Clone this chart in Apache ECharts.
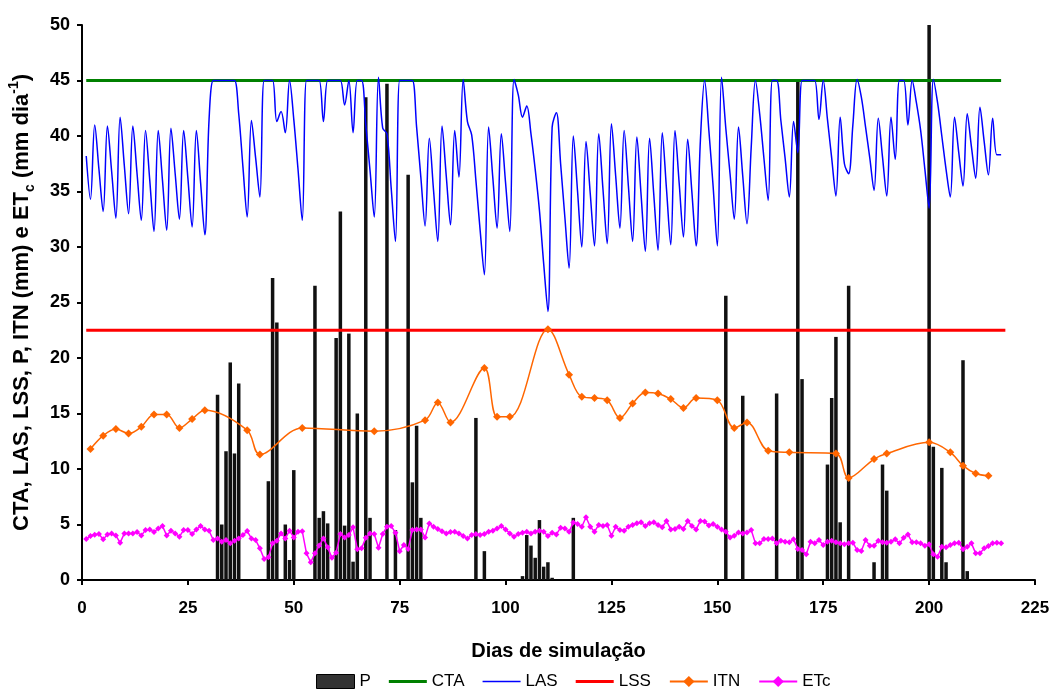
<!DOCTYPE html>
<html><head><meta charset="utf-8">
<script src="https://cdn.jsdelivr.net/npm/echarts@6/dist/echarts.min.js"></script>
<style>html,body{margin:0;padding:0;background:#fff}#c{width:1053px;height:694px}</style>
</head><body><div id="c"></div>
<script>
// LAS daily values, days 1..217
const lasValues = [
38.2,34.3,41.0,37.0,33.2,40.9,36.8,32.6,41.7,37.3,
33.0,40.9,36.6,32.4,40.5,36.0,31.4,40.5,36.0,31.5,
40.7,36.6,32.5,40.5,36.2,31.8,40.5,35.8,31.1,41.5,
45,45,45,45,45,45,42,37.2,32.7,41.4,
38,34.5,45,45,45,41.3,42.2,40.3,45,41.5,
37,32.4,45,45,45,45,41.3,45,45,45,
45,42.8,45,40.3,45,45,41,36.9,32.7,45.3,
40.7,40.2,35.3,30.5,45,45,45,45,40.8,36.3,
31.9,39.8,35.1,30.5,40.9,36.4,32.0,40.5,36.3,45.1,
41.3,40.1,36,31.5,27.5,40.8,36.2,31.7,40.2,35.8,
31.4,45.1,43.7,41.7,42.7,40.2,37.0,33.3,28.5,24.2,
40.8,42.1,37.5,32.7,28.1,40.0,35.0,30.0,39.5,34.8,
30.1,40.2,35.2,30.3,41.1,36.4,31.7,40.5,35.5,30.5,
39.9,34.7,29.6,39.8,34.7,29.7,40.3,35.2,30.2,40.5,
35.7,30.9,39.7,34.9,30.1,39.6,45,40.5,35.5,30.1,
45.3,40.7,36.6,32.5,40.8,36.4,32.1,39,45,42,
38,34.2,45,45,41.4,38,34.5,41.3,38.5,45,
45,45,45,41.5,45,41.5,38,34.6,41.7,37.5,
36.6,41,45.1,43.5,40.8,38,35.1,41.6,38.1,34.6,
41.7,37.9,45,45,41,45,43,40.5,37,33.5,
45.1,43,40,37,34.5,41.7,38.5,35.5,42.0,39,
36.2,42.6,39.5,36.5,41.6,38.3,38.3
];
// ETc daily values, days 1..217
const etcValues = [
3.7,3.96,4.08,4.15,3.66,4.1,4.2,4.0,3.36,4.2,
4.2,4.2,4.32,4.0,4.5,4.56,4.32,4.65,4.86,4.0,
4.44,4.2,3.9,4.5,4.5,4.15,4.56,4.86,4.56,4.44,
3.6,3.75,3.45,3.6,3.3,3.54,3.75,4.05,4.41,3.75,
3.6,2.85,1.9,2.04,3.3,3.54,4.2,3.75,4.44,3.84,
4.35,4.4,2.4,1.6,2.4,3.1,3.75,2.94,2.0,2.46,
4.15,3.84,4.05,4.75,2.76,2.85,3.8,4.2,4.15,2.9,
4.15,4.8,4.86,4.26,2.6,3.15,2.8,4.5,4.56,4.56,
3.84,5.1,4.8,4.6,4.4,4.2,4.32,4.35,4.2,3.96,
3.75,4.05,4.15,4.05,4.15,4.35,4.44,4.65,4.86,4.56,
4.2,3.9,4.15,4.26,4.35,4.2,4.35,4.44,4.35,3.96,
4.26,4.11,4.71,4.65,4.35,5.17,5.05,4.80,5.65,4.80,
4.35,4.96,4.86,4.96,3.99,4.80,4.50,4.44,4.80,4.96,
5.11,5.20,4.86,5.11,5.20,4.96,4.75,5.32,4.56,4.60,
4.80,4.60,5.32,4.86,4.56,5.32,5.26,4.90,5.05,4.80,
4.56,4.35,3.84,3.99,4.29,4.20,4.29,4.50,3.30,3.30,
3.69,3.69,3.75,3.30,3.54,3.45,3.39,3.66,2.79,2.70,
2.31,3.45,3.30,3.60,3.15,3.45,3.54,3.39,3.30,3.21,
3.30,3.36,2.70,2.61,3.60,3.09,3.09,3.54,3.39,3.36,
3.45,3.66,3.30,3.81,4.11,3.39,3.39,3.30,3.09,3.21,
2.31,2.10,3.00,2.94,3.15,3.30,3.36,2.76,3.00,3.30,
2.40,2.40,2.85,3.06,3.30,3.36,3.30
];
// Precipitation P: day, mm
const pDays = [32,33,34,35,36,37,44,45,46,48,49,50,55,56,57,58,60,61,62,63,64,65,67,68,72,74,77,78,79,80,93,95,104,105,106,107,108,109,110,111,116,152,156,164,169,170,176,177,178,179,181,187,189,190,200,201,203,204,208,209];
const pValues = [16.7,5.0,11.6,19.6,11.4,17.7,8.9,27.2,23.2,5.0,1.8,9.9,26.5,5.6,6.2,5.1,21.8,33.2,4.9,22.2,1.65,15.0,43.5,5.6,44.7,4.5,36.5,8.8,13.9,5.6,14.6,2.6,0.35,4.05,3.1,2.0,5.4,1.2,1.6,0.2,5.6,25.6,16.6,16.8,45,18.1,10.4,16.4,21.9,5.2,26.5,1.6,10.4,8.05,50,12.0,10.1,1.6,19.8,0.8];
// ITN: day, mm
const itnDays = [2,5,8,11,14,17,20,23,26,29,39,42,52,69,81,84,87,95,98,101,110,115,118,121,124,127,130,133,136,139,142,145,150,154,157,162,167,178,181,187,190,200,205,208,211,214];
const itnValues = [11.8,13.0,13.6,13.2,13.8,14.9,14.9,13.7,14.5,15.3,13.5,11.3,13.7,13.4,14.4,16.0,14.2,19.1,14.7,14.7,22.6,18.5,16.5,16.4,16.2,14.6,15.9,16.9,16.8,16.3,15.5,16.4,16.2,13.7,14.2,11.65,11.5,11.4,9.2,10.9,11.4,12.4,11.5,10.3,9.6,9.4];
// constant limits
const ctaDays = [1,217], ctaValue = 45;
const lssDays = [1,218], lssValue = 22.5;
const xTicks = {min:0, max:225, interval:25};
const yTicks = {min:0, max:50, interval:5};

const F = "'Liberation Sans', Arial, sans-serif";
const pair = (xs, ys) => xs.map((x,i)=>[x, ys[i]]);
const daily = vals => vals.map((v,i)=>[i+1, v]);

const chart = echarts.init(document.getElementById('c'), null, {renderer:'canvas'});
chart.setOption({
  animation:false,
  backgroundColor:'#fff',
  grid:{left:82, right:18, top:25, bottom:114, containLabel:false, outerBoundsMode:'none'},
  legend:{
    left:311, bottom:-1, itemWidth:38, itemHeight:14, itemGap:18,
    textStyle:{fontFamily:F, fontSize:17, color:'#000'},
    data:[
      {name:'P', icon:'rect', itemStyle:{color:'#333', borderColor:'#000', borderWidth:1}},
      {name:'CTA', icon:'path://M0,0H40V3H0Z'},
      {name:'LAS', icon:'path://M0,0H40V1.6H0Z'},
      {name:'LSS', icon:'path://M0,0H40V3H0Z'},
      'ITN','ETc'
    ]
  },
  xAxis:{
    type:'value', min:xTicks.min, max:xTicks.max, interval:xTicks.interval,
    name:'Dias de simulação', nameLocation:'middle', nameGap:61,
    nameTextStyle:{fontFamily:F, fontSize:20, fontWeight:'bold', color:'#000'},
    axisLine:{show:true, onZero:false, lineStyle:{color:'#000', width:2}},
    axisTick:{show:true, length:5, lineStyle:{color:'#000', width:2}},
    axisLabel:{fontFamily:F, fontSize:17, fontWeight:'bold', color:'#000', margin:20},
    splitLine:{show:false}
  },
  yAxis:{
    type:'value', min:yTicks.min, max:yTicks.max, interval:yTicks.interval,
    name:'{a|CTA, LAS, LSS, P, ITN (mm) e ET}{sub|c}{a| (mm dia}{sup|-1}{a|)}',
    nameLocation:'middle', nameRotate:90, nameGap:45,
    nameTextStyle:{
      fontFamily:F, fontSize:22, fontWeight:'bold', color:'#000',
      rich:{
        a:{fontFamily:F, fontSize:22, fontWeight:'bold', color:'#000', lineHeight:30},
        sub:{fontFamily:F, fontSize:14, fontWeight:'bold', color:'#000', verticalAlign:'bottom', lineHeight:14},
        sup:{fontFamily:F, fontSize:14, fontWeight:'bold', color:'#000', verticalAlign:'top', lineHeight:14}
      }
    },
    axisLine:{show:true, lineStyle:{color:'#000', width:2}},
    axisTick:{show:true, length:5, lineStyle:{color:'#000', width:2}},
    axisLabel:{fontFamily:F, fontSize:18, fontWeight:'bold', color:'#000', margin:12},
    splitLine:{show:false}
  },
  series:[
    {name:'P', type:'bar', data:pair(pDays,pValues), barWidth:3.5, clip:true,
     itemStyle:{color:'#111'}, z:1},
    {name:'CTA', type:'line', data:ctaDays.map(d=>[d,ctaValue]), symbol:'none',
     lineStyle:{color:'#008000', width:3}, itemStyle:{color:'#008000'}, z:3},
    {name:'LAS', type:'line', data:daily(lasValues), symbol:'none', smooth:0.35,
     lineStyle:{color:'#0000FF', width:1.5}, itemStyle:{color:'#0000FF'}, z:4},
    {name:'LSS', type:'line', data:lssDays.map(d=>[d,lssValue]), symbol:'none',
     lineStyle:{color:'#FF0000', width:3}, itemStyle:{color:'#FF0000'}, z:3},
    {name:'ITN', type:'line', data:pair(itnDays,itnValues), symbol:'diamond', symbolSize:8, smooth:0.35,
     lineStyle:{color:'#FF6600', width:1.5}, itemStyle:{color:'#FF6600'}, z:5},
    {name:'ETc', type:'line', data:daily(etcValues), symbol:'diamond', symbolSize:6,
     lineStyle:{color:'#FF00FF', width:1.5}, itemStyle:{color:'#FF00FF'}, z:6}
  ]
});
</script></body></html>
